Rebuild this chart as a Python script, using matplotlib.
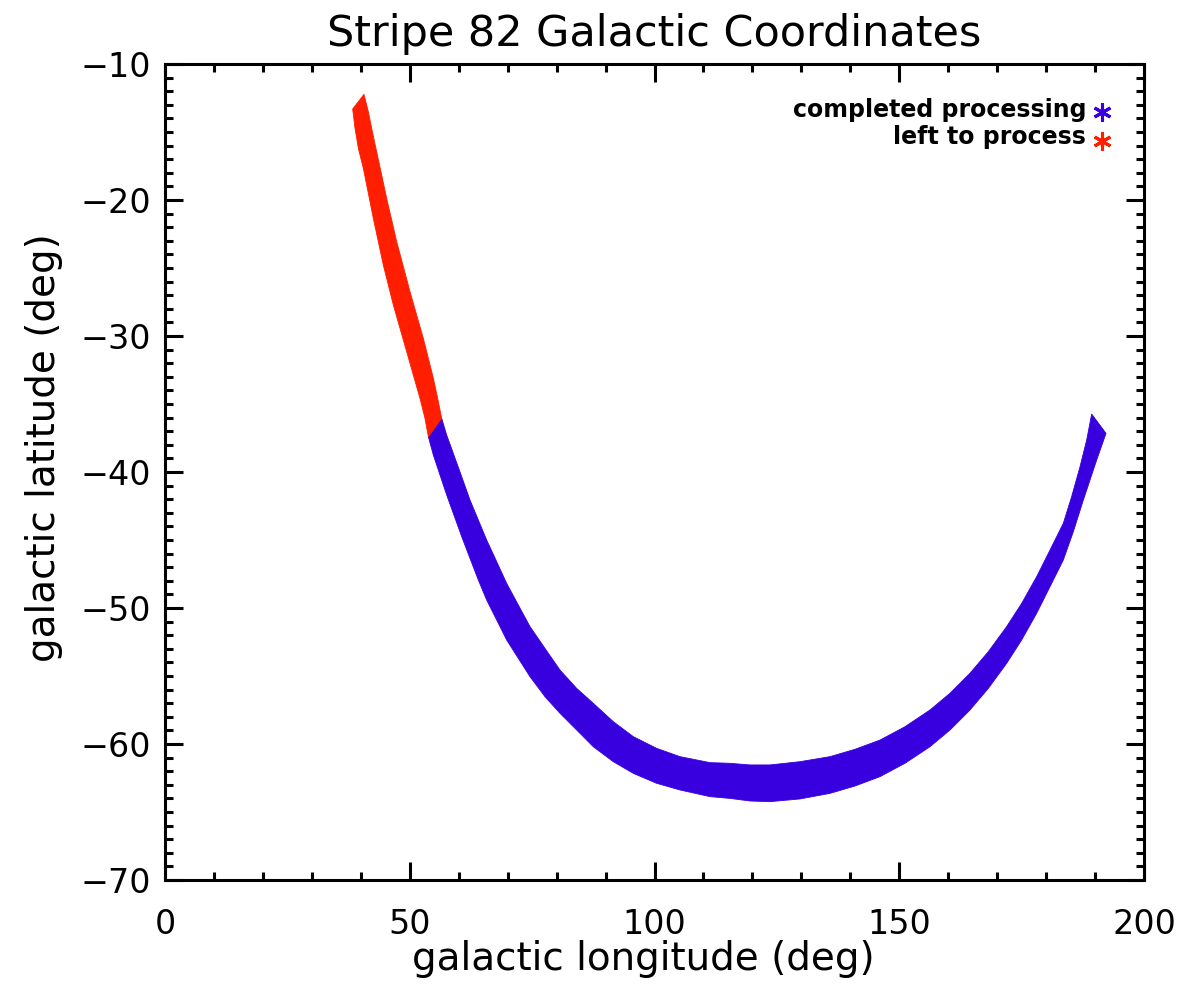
import numpy as np
import matplotlib
matplotlib.use('Agg')
import matplotlib.pyplot as plt
from matplotlib.ticker import MultipleLocator

# ── Stripe 82 edges in galactic coords ───────────────────────────────────────
# "left to process" segment (outer = left edge, inner = right edge)
red_outer_l = [38.34, 38.82, 39.50, 40.52, 41.54, 42.56, 43.58, 44.60, 45.62,
               46.65, 48.01, 49.37, 50.73, 52.09, 53.11, 53.80]
red_outer_b = [-13.31, -14.73, -16.20, -17.67, -19.51, -21.35, -23.06, -24.78, -26.25,
               -27.72, -29.44, -31.15, -32.87, -34.58, -36.05, -37.40]
red_inner_l = [40.65, 41.54, 42.36, 43.24, 44.26, 45.28, 46.31, 47.33, 48.69,
               50.05, 51.41, 52.77, 53.80, 54.82, 55.70, 56.52]
red_inner_b = [-12.23, -13.51, -14.98, -16.45, -18.16, -19.88, -21.47, -23.06, -24.90,
               -26.74, -28.46, -30.17, -31.64, -33.11, -34.58, -36.05]

# "completed processing" segment (outer = lower edge, inner = upper edge)
blue_outer_l = [53.80, 54.82, 56.18, 57.54, 58.90, 60.61, 62.31, 64.01, 65.71,
                67.76, 69.80, 72.18, 74.57, 77.63, 80.69, 84.10, 87.50, 91.59,
                95.68, 100.44, 105.21, 111.34, 115.42, 119.51, 123.60, 129.72,
                135.85, 140.96, 146.07, 151.17, 156.28, 160.37, 164.45, 168.20,
                171.94, 175.01, 178.07, 180.80, 183.52, 185.56, 187.61, 188.97,
                190.33, 192.24]
blue_outer_b = [-37.40, -38.75, -40.22, -41.69, -43.04, -44.75, -46.35, -47.94, -49.41,
                -50.88, -52.35, -53.70, -55.05, -56.52, -57.74, -58.97, -60.20, -61.30,
                -62.16, -62.89, -63.38, -63.87, -64.00, -64.19, -64.24, -64.04,
                -63.63, -63.09, -62.40, -61.42, -60.20, -58.97, -57.50, -55.91,
                -54.07, -52.35, -50.39, -48.43, -46.47, -44.39, -42.06, -40.59,
                -39.12, -37.16]
blue_inner_l = [56.52, 57.54, 58.90, 60.61, 62.31, 64.01, 65.71, 67.76, 69.80,
                72.18, 74.57, 77.63, 80.69, 84.10, 87.50, 91.59, 95.68, 100.44,
                105.21, 111.34, 115.42, 119.51, 123.60, 129.72, 135.85, 140.96,
                146.07, 151.17, 156.28, 160.37, 164.45, 168.20, 171.94, 175.01,
                178.07, 180.80, 183.52, 185.22, 186.93, 188.29, 189.31]
blue_inner_b = [-36.05, -37.28, -38.63, -40.34, -42.06, -43.53, -45.00, -46.59, -48.19,
                -49.78, -51.37, -52.97, -54.56, -55.91, -57.01, -58.36, -59.46, -60.32,
                -60.93, -61.37, -61.42, -61.54, -61.54, -61.30, -60.93, -60.39,
                -59.71, -58.73, -57.50, -56.27, -54.80, -53.21, -51.37, -49.66,
                -47.70, -45.74, -43.77, -41.81, -39.61, -37.65, -35.74]

BLUE = '#3800DF'
RED  = '#FF1E00'

plt.rcParams['font.family'] = 'DejaVu Sans'

fig = plt.figure(figsize=(11.88, 9.90), dpi=100)
ax = fig.add_axes([165/1188, 1 - 880/990, (1144 - 165)/1188, (880 - 64)/990])

ax.fill(blue_outer_l + blue_inner_l[::-1], blue_outer_b + blue_inner_b[::-1],
        color=BLUE, lw=0.6, ec=BLUE, joinstyle='round')
ax.fill(red_outer_l + red_inner_l[::-1], red_outer_b + red_inner_b[::-1],
        color=RED, lw=0.6, ec=RED, joinstyle='round')

ax.set_xlim(0, 200)
ax.set_ylim(-70, -10)
ax.xaxis.set_major_locator(MultipleLocator(50))
ax.xaxis.set_minor_locator(MultipleLocator(10))
ax.yaxis.set_major_locator(MultipleLocator(10))
ax.yaxis.set_minor_locator(MultipleLocator(1))

for s in ax.spines.values():
    s.set_linewidth(2.2)
ax.tick_params(which='both', direction='in', top=True, right=True, width=2.2)
ax.tick_params(which='major', length=13, labelsize=24)
ax.tick_params(which='minor', length=5.5)
ax.tick_params(axis='x', which='major', pad=20)
ax.tick_params(axis='y', which='major', pad=10)

ax.set_title('Stripe 82 Galactic Coordinates', fontsize=31, pad=13)
ax.set_xlabel('galactic longitude (deg)', fontsize=28)
ax.set_ylabel('galactic latitude (deg)', fontsize=28)
ax.xaxis.set_label_coords(0.489, -0.074)
ax.yaxis.set_label_coords(-0.104, 0.53)

# legend, IDL style: right-aligned text with a star symbol after it
ax.text(0.941, 0.935, 'completed processing', transform=ax.transAxes,
        ha='right', va='baseline', fontsize=17, fontweight='bold')
ax.text(0.941, 0.902, 'left to process', transform=ax.transAxes,
        ha='right', va='baseline', fontsize=17, fontweight='bold')
ax.plot([0.957], [0.941], transform=ax.transAxes, marker=(6, 2, 0), ms=13,
        mew=2.2, color=BLUE, ls='none', clip_on=False)
ax.plot([0.957], [0.906], transform=ax.transAxes, marker=(6, 2, 0), ms=13,
        mew=2.2, color=RED, ls='none', clip_on=False)

fig.savefig('out.png', dpi=100)
